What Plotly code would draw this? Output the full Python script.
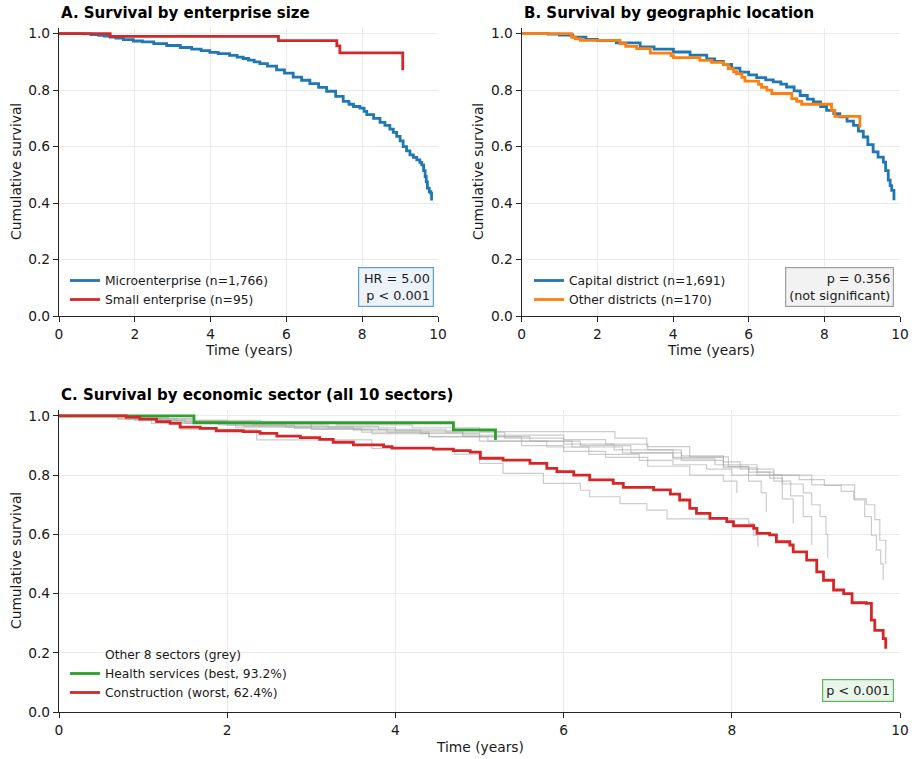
import plotly.graph_objects as go

# ---------------- Data ----------------
# Panel A: enterprise size
micro_t = [0, 0.65, 0.85, 1.05, 1.2, 1.35, 1.5, 1.7, 1.96, 2.2, 2.5, 2.84, 3.2, 3.5, 3.75, 3.98,
           4.2, 4.5, 4.7, 4.86, 5.0, 5.15, 5.30, 5.5, 5.74, 5.95, 6.18, 6.4, 6.62, 6.85, 7.06,
           7.3, 7.50, 7.65, 7.77, 7.94, 8.05, 8.12, 8.3, 8.47, 8.6, 8.73, 8.82, 8.91, 9.0, 9.08,
           9.17, 9.26, 9.35, 9.44, 9.52, 9.57, 9.62, 9.66, 9.69, 9.72, 9.77, 9.81, 9.83]
micro_s = [1.0, 0.999, 0.997, 0.994, 0.991, 0.988, 0.984, 0.979, 0.974, 0.971, 0.965, 0.958, 0.951,
           0.945, 0.940, 0.934, 0.929, 0.923, 0.917, 0.912, 0.906, 0.900, 0.894, 0.885, 0.872,
           0.860, 0.846, 0.835, 0.823, 0.810, 0.796, 0.778, 0.760, 0.750, 0.742, 0.736, 0.725,
           0.713, 0.700, 0.686, 0.675, 0.662, 0.650, 0.636, 0.620, 0.600, 0.585, 0.571, 0.562,
           0.553, 0.544, 0.535, 0.515, 0.494, 0.475, 0.453, 0.440, 0.435, 0.409]
small_t = [0, 1.35, 5.79, 7.33, 7.41, 9.07]
small_s = [1.0, 0.990, 0.975, 0.957, 0.932, 0.870]

# Panel B: geographic location
capital_t = [0, 0.7, 1.0, 1.35, 1.7, 2.0, 2.5, 3.13, 3.5, 4.01, 4.45, 4.89, 5.1, 5.33, 5.55, 5.77,
             6.0, 6.21, 6.45, 6.65, 6.85, 7.00, 7.2, 7.36, 7.55, 7.71, 7.9, 8.06, 8.25, 8.41, 8.6,
             8.77, 8.9, 9.03, 9.15, 9.29, 9.42, 9.56, 9.62, 9.69, 9.74, 9.78, 9.84]
capital_s = [1.0, 0.998, 0.995, 0.988, 0.980, 0.975, 0.967, 0.953, 0.945, 0.935, 0.924, 0.911,
             0.902, 0.891, 0.878, 0.864, 0.854, 0.844, 0.836, 0.829, 0.821, 0.811, 0.797, 0.781,
             0.768, 0.758, 0.742, 0.728, 0.717, 0.705, 0.690, 0.675, 0.655, 0.634, 0.607, 0.581,
             0.563, 0.545, 0.515, 0.481, 0.462, 0.445, 0.410]
other_t = [0, 1.32, 1.42, 1.55, 2.60, 2.75, 3.04, 3.40, 3.95, 4.01, 4.71, 5.02, 5.33, 5.46, 5.60,
           5.68, 5.82, 5.90, 6.26, 6.34, 6.48, 6.61, 7.14, 7.27, 7.40, 8.19, 8.28, 8.94]
other_s = [1.0, 0.988, 0.982, 0.976, 0.965, 0.955, 0.947, 0.931, 0.922, 0.915, 0.905, 0.898, 0.891,
           0.876, 0.865, 0.858, 0.845, 0.832, 0.820, 0.810, 0.800, 0.788, 0.770, 0.760, 0.750,
           0.728, 0.707, 0.667]

# Panel C: economic sectors
health_t = [0, 1.605, 4.69, 5.19]
health_s = [1.0, 0.977, 0.953, 0.919]
constr_t = [0, 0.67, 0.80, 0.96, 1.16, 1.32, 1.44, 1.68, 1.87, 2.19, 2.39, 2.59, 2.87, 3.10, 3.26,
            3.50, 3.86, 3.96, 4.45, 4.69, 4.89, 5.01, 5.28, 5.60, 5.80, 5.92, 6.12, 6.31, 6.59,
            6.71, 7.07, 7.27, 7.38, 7.50, 7.58, 7.74, 7.94, 8.02, 8.26, 8.30, 8.45, 8.53, 8.69,
            8.73, 8.89, 9.01, 9.09, 9.21, 9.33, 9.43, 9.60, 9.66, 9.70, 9.80, 9.83]
constr_s = [1.0, 1.0, 0.996, 0.989, 0.981, 0.975, 0.962, 0.958, 0.950, 0.947, 0.941, 0.932, 0.927,
            0.921, 0.911, 0.902, 0.896, 0.891, 0.888, 0.883, 0.878, 0.857, 0.851, 0.840, 0.823,
            0.812, 0.800, 0.784, 0.772, 0.759, 0.750, 0.736, 0.716, 0.688, 0.671, 0.654, 0.643,
            0.629, 0.620, 0.603, 0.598, 0.575, 0.564, 0.541, 0.513, 0.473, 0.445, 0.412, 0.400,
            0.369, 0.367, 0.310, 0.276, 0.248, 0.214]

grey_t = [
    [0, 0.9, 1.6, 2.4, 3.3, 4.2, 5.0, 6.61, 6.99, 7.50, 7.96, 8.20, 8.95, 9.46, 9.58, 9.66, 9.72, 9.77, 9.80],
    [0, 0.8, 1.3, 2.0, 3.0, 3.8, 4.6, 5.3, 6.0, 6.5, 7.0, 7.4, 7.9, 8.1, 8.5, 8.8, 9.1, 9.3, 9.45, 9.6, 9.7, 9.76, 9.83],
    [0, 0.7, 1.2, 1.9, 2.7, 3.5, 4.3, 5.0, 5.6, 6.2, 6.8, 7.4, 7.9, 8.3, 8.6, 8.85, 8.95, 9.05, 9.12, 9.14],
    [0, 0.8, 1.4, 2.2, 3.0, 3.9, 4.8, 5.5, 6.1, 6.7, 7.3, 7.8, 8.3, 8.5, 8.7, 8.85, 8.95],
    [0, 1.0, 1.6, 2.3, 3.2, 4.0, 4.8, 5.3, 6.0, 6.6, 7.3, 7.9, 8.2, 8.45, 8.6, 8.73],
    [0, 0.9, 1.5, 2.1, 3.0, 3.72, 4.4, 5.1, 5.8, 6.3, 6.9, 7.3, 7.7, 8.0, 8.2, 8.35, 8.41],
    [0, 0.7, 1.1, 1.45, 2.35, 3.72, 4.7, 5.0, 5.28, 5.76, 6.20, 6.31, 6.67, 6.99, 7.23, 8.20, 8.26, 8.31],
    [0, 0.8, 1.3, 2.0, 2.8, 3.6, 4.4, 5.0, 5.5, 6.0, 6.5, 7.0, 7.5, 7.9, 8.06],
]
grey_s = [
    [1, 0.99, 0.985, 0.978, 0.97, 0.96, 0.947, 0.925, 0.896, 0.862, 0.829, 0.80, 0.767, 0.716, 0.66, 0.597, 0.547, 0.50, 0.446],
    [1, 0.995, 0.985, 0.975, 0.965, 0.955, 0.945, 0.935, 0.92, 0.905, 0.885, 0.865, 0.845, 0.82, 0.80, 0.785, 0.765, 0.745, 0.72, 0.70, 0.65, 0.58, 0.50],
    [1, 0.99, 0.98, 0.97, 0.962, 0.952, 0.94, 0.93, 0.915, 0.90, 0.875, 0.85, 0.825, 0.80, 0.77, 0.74, 0.70, 0.66, 0.60, 0.52],
    [1, 0.99, 0.975, 0.965, 0.955, 0.945, 0.93, 0.915, 0.895, 0.875, 0.855, 0.835, 0.81, 0.78, 0.73, 0.66, 0.564],
    [1, 0.99, 0.98, 0.97, 0.96, 0.95, 0.935, 0.925, 0.905, 0.885, 0.86, 0.83, 0.81, 0.79, 0.72, 0.637],
    [1, 0.985, 0.975, 0.962, 0.955, 0.94, 0.93, 0.915, 0.895, 0.87, 0.85, 0.835, 0.82, 0.80, 0.78, 0.74, 0.676],
    [1, 0.99, 0.975, 0.955, 0.919, 0.89, 0.871, 0.84, 0.806, 0.772, 0.749, 0.727, 0.704, 0.682, 0.652, 0.637, 0.597, 0.558],
    [1, 0.99, 0.98, 0.968, 0.958, 0.945, 0.93, 0.915, 0.90, 0.88, 0.86, 0.83, 0.80, 0.78, 0.74],
]

titles = ["A. Survival by enterprise size", "B. Survival by geographic location",
          "C. Survival by economic sector (all 10 sectors)"]
x_title = "Time (years)"
y_title = "Cumulative survival"

# ---------------- Figure ----------------
FONT = "DejaVu Sans"
BLUE, RED, ORANGE, GREEN = "#1f77b4", "#d62728", "#ff7f0e", "#2ca02c"
LW = 2.8
TXT = "#1a1a1a"

fig = go.Figure()

def step(x, y, color, name, xa, ya, legend, width=LW, show=True):
    fig.add_trace(go.Scatter(x=x, y=y, mode="lines", line=dict(color=color, width=width, shape="hv"),
                             name=name, xaxis=xa, yaxis=ya, legend=legend, showlegend=show,
                             hoverinfo="skip"))

step(micro_t, micro_s, BLUE, "Microenterprise (n=1,766)", "x", "y", "legend")
step(small_t, small_s, RED, "Small enterprise (n=95)", "x", "y", "legend")
step(capital_t, capital_s, BLUE, "Capital district (n=1,691)", "x2", "y2", "legend2")
step(other_t, other_s, ORANGE, "Other districts (n=170)", "x2", "y2", "legend2")

fig.add_trace(go.Scatter(x=[None], y=[None], mode="lines", line=dict(color="rgba(0,0,0,0)", width=2),
                         name="Other 8 sectors (grey)", xaxis="x3", yaxis="y3", legend="legend3"))
for gt, gs in zip(grey_t, grey_s):
    step(gt, gs, "rgba(170,170,170,0.6)", "grey", "x3", "y3", "legend3", width=1.2, show=False)
step(health_t, health_s, GREEN, "Health services (best, 93.2%)", "x3", "y3", "legend3")
step(constr_t, constr_s, RED, "Construction (worst, 62.4%)", "x3", "y3", "legend3")

axis_common = dict(showline=True, linecolor="#262626", linewidth=1.2, mirror=False,
                   ticks="outside", ticklen=5, tickwidth=1.2, tickcolor="#262626",
                   showgrid=True, gridcolor="#ebebeb", gridwidth=1, zeroline=False,
                   automargin=False,
                   tickfont=dict(size=13.8, color=TXT, family=FONT))
xcommon = dict(axis_common, range=[0, 10], tickvals=[0, 2, 4, 6, 8, 10])
ycommon = dict(axis_common, range=[0, 1.02], tickvals=[0, 0.2, 0.4, 0.6, 0.8, 1.0], tickformat=".1f")

# plot area in px: x 59..900, y 28..712
def px_x(p): return (p - 59) / 841
def px_y(p): return (712 - p) / 684

fig.update_layout(
    width=916, height=759,
    margin=dict(l=59, r=16, t=28, b=47, autoexpand=False),
    paper_bgcolor="white", plot_bgcolor="white",
    font=dict(family=FONT, color=TXT, size=13.8),
    xaxis=dict(xcommon, domain=[0, px_x(438)], anchor="y"),
    yaxis=dict(ycommon, domain=[px_y(316), 1], anchor="x"),
    xaxis2=dict(xcommon, domain=[px_x(521.7), 1], anchor="y2"),
    yaxis2=dict(ycommon, domain=[px_y(316), 1], anchor="x2"),
    xaxis3=dict(xcommon, domain=[0, 1], anchor="y3"),
    yaxis3=dict(ycommon, domain=[0, px_y(410)], anchor="x3"),
    legend=dict(x=px_x(65), y=px_y(314), xanchor="left", yanchor="bottom",
                bgcolor="rgba(0,0,0,0)", font=dict(size=12.3), tracegroupgap=0),
    legend2=dict(x=px_x(529), y=px_y(314), xanchor="left", yanchor="bottom",
                 bgcolor="rgba(0,0,0,0)", font=dict(size=12.3), tracegroupgap=0),
    legend3=dict(x=px_x(65), y=px_y(707), xanchor="left", yanchor="bottom",
                 bgcolor="rgba(0,0,0,0)", font=dict(size=12.3), tracegroupgap=0),
    showlegend=True,
    hovermode=False,
)

ann = []
for txt, xp, yp in [(titles[0], 59, 13), (titles[1], 521.7, 13), (titles[2], 59, 395)]:
    ann.append(dict(text="<b>" + txt + "</b>", xref="paper", yref="paper", x=px_x(xp), y=px_y(yp),
                    xanchor="left", yanchor="middle", showarrow=False,
                    font=dict(size=15, color="black", family=FONT)))
# axis titles
for xc, yc in [(248.5, 350), (711, 350), (479.5, 747)]:
    ann.append(dict(text=x_title, xref="paper", yref="paper", x=px_x(xc), y=px_y(yc),
                    xanchor="center", yanchor="middle", showarrow=False,
                    font=dict(size=13.8, color=TXT, family=FONT)))
for xc, yc in [(16, 172), (478, 172), (16, 561)]:
    ann.append(dict(text=y_title, xref="paper", yref="paper", x=px_x(xc), y=px_y(yc),
                    xanchor="center", yanchor="middle", showarrow=False, textangle=-90,
                    font=dict(size=13.8, color=TXT, family=FONT)))
boxes = [
    ("HR = 5.00<br> p &lt; 0.001", 434, 307, "#edf3fb", "#5f9ed1"),
    ("p = 0.356<br>(not significant)", 894, 307, "#f2f2f2", "#9e9e9e"),
    ("p &lt; 0.001", 894, 702, "#eaf6ea", "#5cb85c"),
]
for txt, xr, yb, bg, bc in boxes:
    ann.append(dict(text=txt, xref="paper", yref="paper", x=px_x(xr), y=px_y(yb),
                    xanchor="right", yanchor="bottom", align="right", showarrow=False,
                    bgcolor=bg, bordercolor=bc, borderwidth=1.2, borderpad=3,
                    font=dict(size=12.8, color=TXT, family=FONT)))
fig.update_layout(annotations=ann)

fig.write_html("out.html", config={"displayModeBar": False},
               post_script="document.body.style.margin='0';")
